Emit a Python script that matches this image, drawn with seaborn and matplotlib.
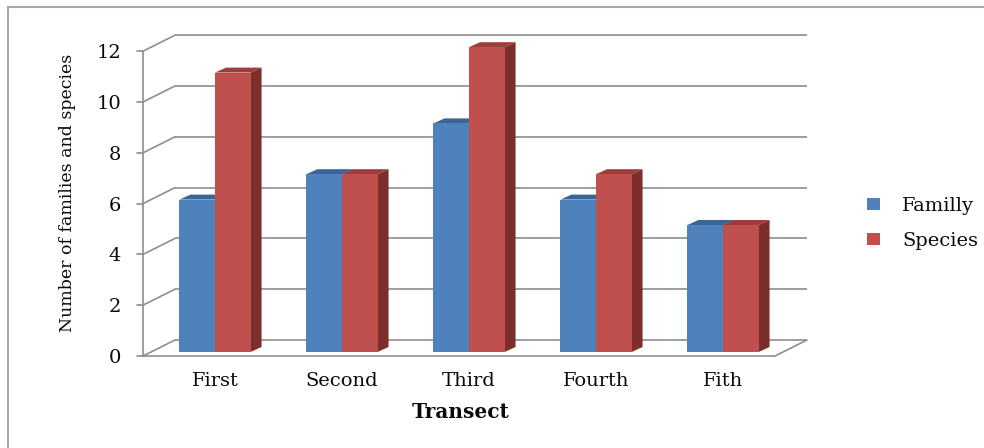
import matplotlib
matplotlib.use("Agg")
import matplotlib.pyplot as plt
import pandas as pd
import seaborn as sns
from matplotlib.patches import Polygon, Patch, Rectangle

# ---- data ----
transects = ["First", "Second", "Third", "Fourth", "Fith"]
familly = [6, 7, 9, 6, 5]
species = [11, 7, 12, 7, 5]
series_names = ["Familly", "Species"]
y_ticks = [0, 2, 4, 6, 8, 10, 12]

front_colors = {"Familly": "#4F81BD", "Species": "#C0504D"}
top_colors = {"Familly": "#3C6597", "Species": "#9C3D3A"}
side_colors = {"Familly": "#30507A", "Species": "#7B2E2C"}
grid_color = "#8E8E8E"
ink = "#0A0A0A"

sns.set_theme(style="white")
plt.rcParams["font.family"] = ["DejaVu Serif"]
plt.rcParams["text.color"] = ink
plt.rcParams["axes.labelcolor"] = ink
plt.rcParams["xtick.color"] = ink

W, H = 984, 448
fig = plt.figure(figsize=(W / 100, H / 100), dpi=100)

# pixel layout of the bar front plane
X0, SX = 215.0, 127.0    # x pixel of first category centre, pixels per category
Y0, SY = 352.0, 25.4     # y pixel of value 0, pixels per unit
AX_L, AX_R, AX_T, AX_B = 100, 850, 20, 368
ax = fig.add_axes([AX_L / W, 1 - AX_B / H, (AX_R - AX_L) / W, (AX_B - AX_T) / H])


def px_x(p):
    return (p - X0) / SX


df = pd.DataFrame({
    "Transect": transects * 2,
    "Series": [series_names[0]] * len(transects) + [series_names[1]] * len(transects),
    "Count": familly + species,
})

sns.barplot(data=df, x="Transect", y="Count", hue="Series", hue_order=series_names,
            palette=front_colors, width=0.56, saturation=1, legend=False,
            linewidth=0, edgecolor="none", ax=ax)
bars = list(ax.patches)

ax.set_xlim(px_x(AX_L), px_x(AX_R))
ax.set_ylim((Y0 - AX_B) / SY, (Y0 - AX_T) / SY)

# ---- 3-D room: side wall, back wall gridlines, floor ----
xf = px_x(143)           # front axis
xb_l, xb_r = px_x(175), px_x(807)
xf_r = px_x(775)
dyf = -4 / SY            # front plane vertical shift
dyb = 12 / SY            # back plane vertical shift
lw = 1.2
for v in y_ticks:
    ax.plot([xb_l, xb_r], [v + dyb, v + dyb], color=grid_color, lw=lw, zorder=1,
            solid_capstyle="butt")
    ax.plot([xf, xb_l], [v + dyf, v + dyb], color=grid_color, lw=lw, zorder=1)
    ax.plot([xf - 6 / SX, xf], [v + dyf, v + dyf], color=grid_color, lw=lw, zorder=1)
    ax.text(px_x(121), v + dyf - 2 / SY, str(v), ha="right", va="center", fontsize=14)
ax.plot([xf, xf], [dyf, y_ticks[-1] + dyf], color=grid_color, lw=lw, zorder=1)
ax.plot([xf, xf_r, xb_r], [dyf, dyf, dyb], color=grid_color, lw=lw, zorder=1)

# ---- 3-D bar faces ----
ddx, ddy = 11 / SX, 5 / SY
n = len(transects)
for i, r in enumerate(bars):
    s = series_names[i // n]
    z = 3 + i // n
    x0, w, h = r.get_x(), r.get_width(), r.get_height()
    x1 = x0 + w
    r.set_zorder(z + 0.2)
    ax.add_patch(Polygon([(x1, 0), (x1 + ddx, ddy), (x1 + ddx, h + ddy), (x1, h)],
                         closed=True, facecolor=side_colors[s], edgecolor="none", zorder=z))
    ax.add_patch(Polygon([(x0, h), (x0 + ddx, h + ddy), (x1 + ddx, h + ddy), (x1, h)],
                         closed=True, facecolor=top_colors[s], edgecolor="none", zorder=z))

# ---- axes text ----
for sp in ax.spines.values():
    sp.set_visible(False)
ax.set_yticks([])
ax.tick_params(axis="x", length=0, pad=3, labelsize=14)
ax.set_xlabel("Transect", fontsize=14.5, fontweight="bold")
ax.xaxis.set_label_coords((461 - AX_L) / (AX_R - AX_L), (AX_B - 412) / (AX_B - AX_T))
ax.xaxis.label.set_verticalalignment("center")
ax.set_ylabel("Number of families and species", fontsize=12.5)
ax.yaxis.set_label_coords((68 - AX_L) / (AX_R - AX_L), (AX_B - 193) / (AX_B - AX_T))
ax.yaxis.label.set_verticalalignment("center")

handles = [Patch(facecolor=front_colors[s], edgecolor="none") for s in series_names]
ax.legend(handles, series_names, loc="upper left",
          bbox_to_anchor=(867 / W, 1 - 197 / H), bbox_transform=fig.transFigure,
          frameon=False, fontsize=14, handlelength=0.65, handleheight=0.55,
          handletextpad=1.15, labelspacing=0.85, borderpad=0, borderaxespad=0)

# chart area border
fig.add_artist(Rectangle((8 / W, -0.1), 1.2, 1.1 - 7 / H, transform=fig.transFigure,
                         fill=False, edgecolor="#A8A8A8", lw=1.5))

fig.savefig("out.png", dpi=100)
